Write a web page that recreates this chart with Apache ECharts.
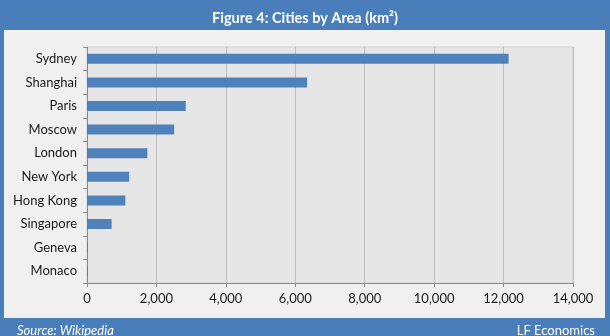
<!DOCTYPE html>
<html>
<head>
<meta charset="utf-8">
<script src="https://cdn.jsdelivr.net/npm/echarts@6/dist/echarts.min.js"></script>
<style>
html,body{margin:0;padding:0;background:#4a7ebb;}
#c{width:610px;height:336px;}
</style>
</head>
<body>
<div id="c"></div>
<script>
const categories = ['Sydney','Shanghai','Paris','Moscow','London','New York','Hong Kong','Singapore','Geneva','Monaco'];
const areas = [12145, 6340, 2845, 2511, 1738, 1214, 1104, 710, 16, 2];
const xTicks = [0, 2000, 4000, 6000, 8000, 10000, 12000, 14000];
const titleText = 'Figure 4: Cities by Area (km²)';
const sourceText = 'Source: Wikipedia';
const creditText = 'LF Economics';

const FONT = 'Lato, "Liberation Sans", sans-serif';
const chart = echarts.init(document.getElementById('c'), null, {renderer:'canvas'});
chart.setOption({
  backgroundColor: '#4a7ebb',
  animation: false,
  graphic: [
    {type:'rect', shape:{x:4, y:30, width:601, height:288}, style:{fill:'#f0f0f0'}, z:-10}
  ],
  title: [
    {text: titleText, left: 'center', top: 6,
     textStyle:{color:'#fff', fontSize:14.5, fontWeight:'bold', fontFamily: FONT}},
    {text: sourceText, left: 12, top: 319,
     textStyle:{color:'#fff', fontSize:13, fontWeight:'normal', fontStyle:'italic', fontFamily: FONT}},
    {text: creditText, right: 10, top: 319,
     textStyle:{color:'#fff', fontSize:13, fontWeight:'normal', fontFamily: FONT}}
  ],
  grid: {left: 87, right: 37, top: 47, bottom: 53, show: true,
         backgroundColor: '#e6e6e6', borderColor: '#d0d0d0', borderWidth: 1},
  xAxis: {
    type: 'value', min: 0, max: 14000, interval: 2000,
    axisLine: {show: true, lineStyle:{color:'#8c8c8c'}},
    axisTick: {show: true, length: 4, lineStyle:{color:'#8c8c8c'}},
    splitLine: {show: true, lineStyle:{color:'#bdbdbd'}},
    axisLabel: {color:'#1a1a1a', fontSize:13, fontFamily: FONT, margin: 9,
      formatter: v => xTicks.includes(v) ? v.toLocaleString('en-US') : ''}
  },
  yAxis: {
    type: 'category', data: categories, inverse: true,
    axisLine: {show: true, lineStyle:{color:'#8c8c8c'}},
    axisTick: {show: true, length: 4, lineStyle:{color:'#8c8c8c'}},
    axisLabel: {color:'#1a1a1a', fontSize:13, fontFamily: FONT, margin: 10}
  },
  series: [{
    type: 'bar', data: areas, barWidth: 10, barMinHeight: 1,
    itemStyle: {color: '#4f81bd'}
  }]
});
</script>
</body>
</html>
